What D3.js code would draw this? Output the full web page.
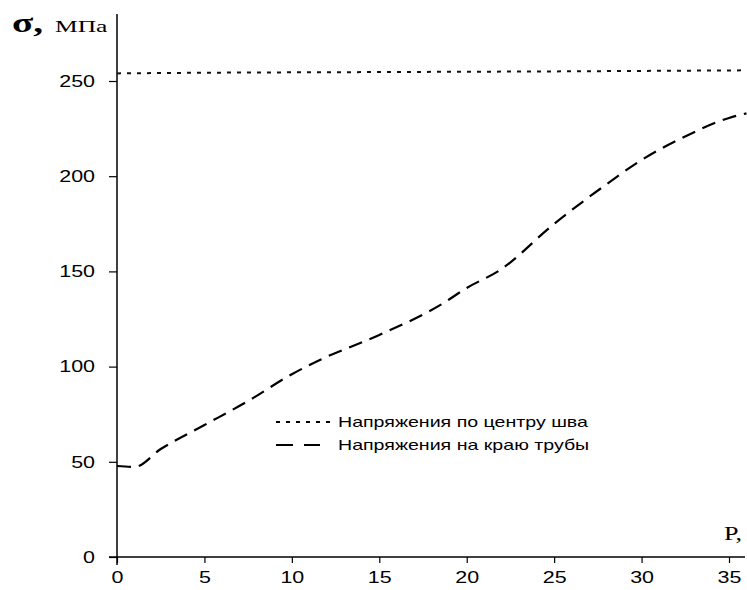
<!DOCTYPE html>
<html>
<head>
<meta charset="utf-8">
<script src="https://cdn.jsdelivr.net/npm/d3@7"></script>
<style>
  html, body { margin: 0; padding: 0; background: #fff; }
  svg { display: block; }
</style>
</head>
<body>
<svg id="chart" width="747" height="590"></svg>
<script>
// Pressure P and stress values
const xTicks = [0, 5, 10, 15, 20, 25, 30, 35];
const yTicks = [0, 50, 100, 150, 200, 250];

// Stress at the weld centre
const centerP = [0, 6, 12, 18, 24, 30, 36];
const centerSigma = [254.0, 254.4, 254.6, 254.8, 255.0, 255.3, 255.6];

// Stress at the pipe edge
const edgeP = [0, 1.0, 2.5, 5, 7.6, 10, 11.6, 15, 18.5, 20, 21.9, 25, 27.7, 30, 32.3, 35, 36];
const edgeSigma = [47.8, 47.3, 56.7, 69.3, 82.5, 96, 103.5, 116.6, 132.4, 141.3, 150.7, 175, 193.8, 208.5, 220, 230.6, 233];

const legendLabels = ["Напряжения по центру шва", "Напряжения на краю трубы"];

const svg = d3.select("#chart");
const x0 = 117, x1 = 729, yBase = 557, y250 = 81;

const x = d3.scaleLinear().domain([0, 35]).range([x0, x1]);
const y = d3.scaleLinear().domain([0, 250]).range([yBase, y250]);

const font = "'Liberation Sans', Arial, sans-serif";
const serif = "'Liberation Serif', 'Times New Roman', serif";

// Widen glyphs horizontally (the typeface used is a wide one)
function widen(sel, k) {
  sel.each(function () {
    const w = this.getComputedTextLength();
    d3.select(this).attr("textLength", w * k).attr("lengthAdjust", "spacingAndGlyphs");
  });
}

// X axis
const xAxis = svg.append("g").attr("transform", `translate(0,${yBase})`)
  .call(d3.axisBottom(x).tickValues(xTicks).tickSize(6).tickPadding(8).tickSizeOuter(0));
xAxis.select(".domain").remove();
xAxis.append("line").attr("x1", x0 - 8).attr("x2", 745).attr("y1", 0).attr("y2", 0)
  .attr("stroke", "#000").attr("stroke-width", 1.5);

// Y axis
const yAxis = svg.append("g").attr("transform", `translate(${x0},0)`)
  .call(d3.axisLeft(y).tickValues(yTicks).tickSize(8).tickPadding(14).tickSizeOuter(0));
yAxis.select(".domain").remove();
yAxis.append("line").attr("x1", 0).attr("x2", 0).attr("y1", 14).attr("y2", yBase + 8)
  .attr("stroke", "#000").attr("stroke-width", 1.5);

svg.selectAll(".tick text").attr("font-family", font).attr("font-size", 16.5).attr("fill", "#000");
svg.selectAll(".tick line").attr("stroke", "#000").attr("stroke-width", 1.2);
widen(svg.selectAll(".tick text"), 1.3);

// Axis titles
const sig = svg.append("text").attr("x", 12).attr("y", 32).attr("font-family", serif)
  .attr("font-size", 27).attr("font-weight", "bold").text("σ,");
widen(sig, 1.45);
const unit = svg.append("text").attr("x", 55).attr("y", 32).attr("font-family", serif)
  .attr("font-size", 17).text("МПа");
widen(unit, 1.5);

const pLab = svg.append("text").attr("x", 724).attr("y", 540).attr("font-family", serif)
  .attr("font-size", 18).text("P,");
widen(pLab, 1.45);

const line = d3.line().x(d => x(d[0])).y(d => y(d[1])).curve(d3.curveMonotoneX);

// Weld-centre stress, dotted
svg.append("path").datum(d3.zip(centerP, centerSigma))
  .attr("d", line).attr("fill", "none").attr("stroke", "#111")
  .attr("stroke-width", 2).attr("stroke-dasharray", "4,6");

// Pipe-edge stress, dashed
svg.append("path").datum(d3.zip(edgeP, edgeSigma))
  .attr("d", line).attr("fill", "none").attr("stroke", "#000")
  .attr("stroke-width", 2.2).attr("stroke-dasharray", "14,8");

// Legend
const legend = svg.append("g");
const samples = [
  { dash: "4,6", x2: 330 },
  { dash: "17,11", x2: 320 }
];
legendLabels.forEach((lab, i) => {
  const ly = 422 + i * 23;
  legend.append("line").attr("x1", 276).attr("x2", samples[i].x2).attr("y1", ly).attr("y2", ly)
    .attr("stroke", "#000").attr("stroke-width", 1.8).attr("stroke-dasharray", samples[i].dash);
  const t = legend.append("text").attr("x", 338).attr("y", ly + 5)
    .attr("font-family", font).attr("font-size", 14.5).text(lab);
  widen(t, 1.35);
});
</script>
</body>
</html>
